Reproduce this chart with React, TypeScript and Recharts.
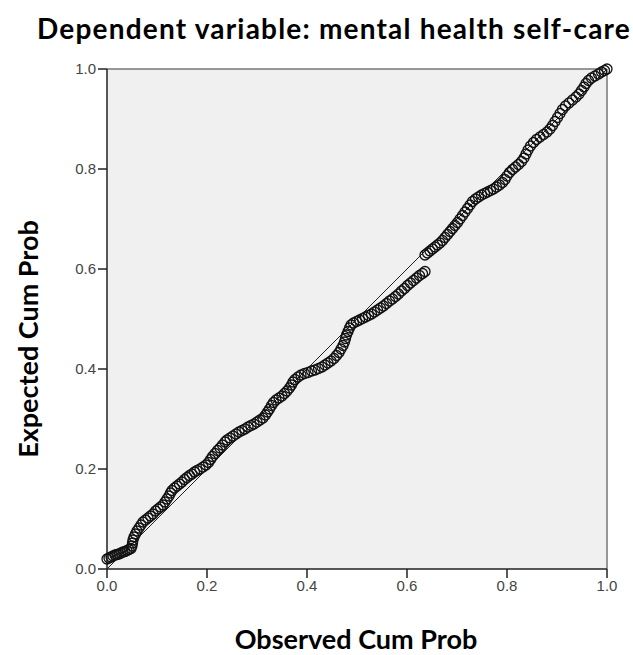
import { ScatterChart, Scatter, XAxis, YAxis, CartesianGrid, ReferenceLine } from 'recharts'

const observed = [
  0.0, 0.004, 0.008, 0.012, 0.016, 0.02, 0.024, 0.028, 0.032, 0.036, 0.04, 0.044, 0.048, 0.05, 0.051,
  0.052, 0.054, 0.057, 0.06, 0.064, 0.068, 0.072, 0.077, 0.082, 0.087, 0.092, 0.097, 0.102, 0.107, 0.112,
  0.116, 0.12, 0.124, 0.127, 0.13, 0.135, 0.14, 0.145, 0.15, 0.155, 0.16, 0.165, 0.17, 0.175, 0.18,
  0.186, 0.192, 0.198, 0.203, 0.207, 0.211, 0.216, 0.221, 0.226, 0.231, 0.236, 0.24, 0.246, 0.252, 0.258,
  0.264, 0.27, 0.276, 0.282, 0.288, 0.294, 0.3, 0.306, 0.312, 0.317, 0.321, 0.325, 0.329, 0.333, 0.338,
  0.344, 0.35, 0.355, 0.36, 0.365, 0.369, 0.372, 0.376, 0.382, 0.388, 0.395, 0.402, 0.409, 0.416, 0.423,
  0.43, 0.436, 0.442, 0.448, 0.454, 0.459, 0.464, 0.468, 0.472, 0.475, 0.477, 0.479, 0.482, 0.485, 0.488,
  0.493, 0.499, 0.505, 0.511, 0.517, 0.523, 0.529, 0.535, 0.541, 0.547, 0.553, 0.559, 0.565, 0.571, 0.577,
  0.583, 0.589, 0.595, 0.601, 0.607, 0.613, 0.619, 0.625, 0.631, 0.636, 0.636, 0.641, 0.646, 0.651, 0.656,
  0.661, 0.666, 0.671, 0.676, 0.681, 0.686, 0.691, 0.696, 0.701, 0.706, 0.711, 0.716, 0.721, 0.726, 0.731,
  0.737, 0.743, 0.749, 0.755, 0.761, 0.767, 0.773, 0.779, 0.785, 0.791, 0.796, 0.8, 0.805, 0.811, 0.817,
  0.823, 0.829, 0.834, 0.838, 0.842, 0.847, 0.853, 0.859, 0.866, 0.873, 0.88, 0.886, 0.891, 0.896, 0.901,
  0.906, 0.911, 0.917, 0.924, 0.931, 0.938, 0.944, 0.949, 0.954, 0.958, 0.963, 0.969, 0.976, 0.983, 0.989,
  0.995, 1.0,
]

const expected = [
  0.02, 0.022, 0.024, 0.026, 0.028, 0.029, 0.03, 0.032, 0.034, 0.035, 0.037, 0.039, 0.041, 0.046, 0.052,
  0.058, 0.064, 0.07, 0.076, 0.082, 0.088, 0.094, 0.098, 0.102, 0.106, 0.11, 0.116, 0.12, 0.124, 0.128,
  0.134, 0.14, 0.146, 0.152, 0.157, 0.162, 0.166, 0.17, 0.174, 0.179, 0.183, 0.187, 0.19, 0.194, 0.197,
  0.2, 0.204, 0.208, 0.213, 0.219, 0.225, 0.231, 0.237, 0.242, 0.248, 0.254, 0.258, 0.262, 0.266, 0.27,
  0.274, 0.277, 0.28, 0.284, 0.287, 0.29, 0.294, 0.298, 0.302, 0.308, 0.314, 0.32, 0.327, 0.333, 0.338,
  0.342, 0.346, 0.351, 0.356, 0.362, 0.368, 0.374, 0.379, 0.384, 0.388, 0.391, 0.393, 0.396, 0.398, 0.401,
  0.404, 0.408, 0.412, 0.416, 0.421, 0.427, 0.433, 0.44, 0.447, 0.454, 0.461, 0.468, 0.475, 0.482, 0.488,
  0.492, 0.495, 0.498, 0.501, 0.504, 0.507, 0.51, 0.514, 0.518, 0.522, 0.526, 0.531, 0.536, 0.54, 0.545,
  0.55, 0.556, 0.561, 0.567, 0.572, 0.577, 0.582, 0.587, 0.591, 0.595, 0.628, 0.632, 0.636, 0.64, 0.644,
  0.648, 0.652, 0.657, 0.663, 0.669, 0.675, 0.681, 0.687, 0.693, 0.7, 0.707, 0.714, 0.721, 0.728, 0.735,
  0.74, 0.744, 0.748, 0.751, 0.754, 0.757, 0.76, 0.764, 0.768, 0.773, 0.779, 0.786, 0.793, 0.799, 0.804,
  0.809, 0.815, 0.822, 0.83, 0.838, 0.846, 0.853, 0.859, 0.864, 0.869, 0.874, 0.88, 0.887, 0.895, 0.903,
  0.911, 0.919, 0.926, 0.932, 0.938, 0.944, 0.95, 0.957, 0.964, 0.971, 0.977, 0.982, 0.986, 0.99, 0.994,
  0.997, 1.0,
]

const ticks = [0, 0.2, 0.4, 0.6, 0.8, 1.0]

const points = observed.map((x, i) => ({ x, y: expected[i] }))

const OpenCircle = (props: any) => (
  <circle cx={props.cx} cy={props.cy} r={5} fill="none" stroke="#111" strokeWidth={1.3} />
)

const labelFont = 'Lato, "Open Sans", sans-serif'
const tickStyle = { fill: '#444', fontSize: 15, fontFamily: '"Liberation Sans", Arial, sans-serif' }

export default function App() {
  return (
    <div style={{ position: 'relative', width: 633, height: 655, background: '#fff' }}>
      <style>{'body{margin:0}'}</style>
      <div
        style={{
          position: 'absolute',
          left: 334,
          top: 28,
          transform: 'translate(-50%, -50%)',
          whiteSpace: 'nowrap',
          fontFamily: labelFont,
          fontWeight: 700,
          fontSize: 28,
          letterSpacing: 1.2,
          color: '#000',
        }}
      >
        Dependent variable: mental health self-care
      </div>
      <div
        style={{
          position: 'absolute',
          left: 27,
          top: 339,
          transform: 'translate(-50%, -50%) rotate(-90deg)',
          whiteSpace: 'nowrap',
          fontFamily: labelFont,
          fontWeight: 700,
          fontSize: 27,
          color: '#000',
        }}
      >
        Expected Cum Prob
      </div>
      <div
        style={{
          position: 'absolute',
          left: 356,
          top: 638,
          transform: 'translate(-50%, -50%)',
          whiteSpace: 'nowrap',
          fontFamily: labelFont,
          fontWeight: 700,
          fontSize: 27,
          color: '#000',
        }}
      >
        Observed Cum Prob
      </div>
      <ScatterChart
        width={633}
        height={655}
        margin={{ top: 69, right: 26, bottom: 56, left: 47 }}
        style={{ position: 'absolute', top: 0, left: 0 }}
      >
        <CartesianGrid fill="#f0f0f0" horizontal={false} vertical={false} />
        <XAxis
          type="number"
          dataKey="x"
          domain={[0, 1]}
          ticks={ticks}
          tickFormatter={(v: number) => v.toFixed(1)}
          height={30}
          tickSize={9}
          stroke="#222"
          strokeWidth={1.5}
          tick={tickStyle}
        />
        <YAxis
          type="number"
          dataKey="y"
          domain={[0, 1]}
          ticks={ticks}
          tickFormatter={(v: number) => v.toFixed(1)}
          width={60}
          tickSize={9}
          stroke="#222"
          strokeWidth={1.5}
          tick={tickStyle}
        />
        <ReferenceLine y={1} stroke="#777" strokeWidth={1.5} />
        <ReferenceLine x={1} stroke="#777" strokeWidth={1.5} />
        <ReferenceLine
          segment={[
            { x: 0, y: 0 },
            { x: 1, y: 1 },
          ]}
          stroke="#222"
          strokeWidth={1}
        />
        <Scatter data={points} shape={OpenCircle} isAnimationActive={false} />
      </ScatterChart>
    </div>
  )
}
